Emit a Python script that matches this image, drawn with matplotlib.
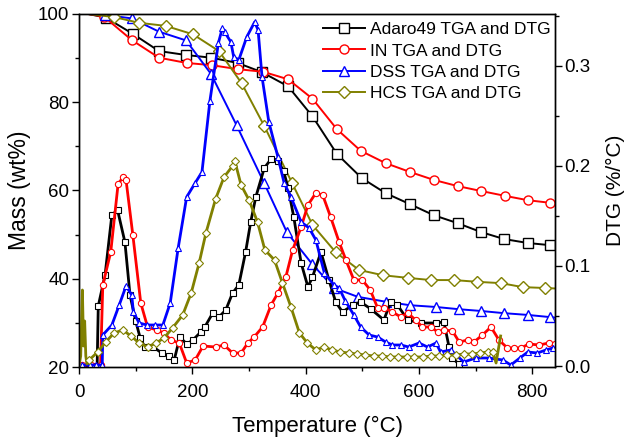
import matplotlib
matplotlib.use('Agg')
import matplotlib.pyplot as plt
from matplotlib.ticker import MultipleLocator

plt.rcParams['font.family'] = ['Liberation Sans', 'DejaVu Sans']

# TGA curves (mass, wt%)
t_ad_tga = [16, 47, 95, 141, 189, 233, 280, 323, 369, 412, 455, 499, 541, 584, 626, 668, 709, 750, 792, 832, 840]
m_ad_tga = [100, 99.2, 95.5, 91.6, 90.7, 90.1, 88.9, 86.8, 83.6, 76.8, 68.3, 62.8, 59.4, 56.9, 54.4, 52.6, 50.6, 49.0, 48.1, 47.6, 47.5]

t_in_tga = [16, 44, 93, 141, 190, 234, 280, 325, 369, 412, 455, 497, 541, 584, 626, 668, 709, 751, 792, 832, 840]
m_in_tga = [100, 99.4, 94.1, 90.1, 88.9, 88.4, 87.5, 86.9, 85.2, 80.8, 73.9, 69.0, 66.2, 64.2, 62.4, 61.0, 59.9, 58.8, 57.8, 57.2, 57.1]

t_dss_tga = [16, 45, 93, 141, 189, 233, 278, 327, 367, 411, 450, 492, 541, 584, 630, 670, 709, 750, 792, 832, 840]
m_dss_tga = [100, 99.8, 99.0, 96.0, 94.0, 86.4, 74.8, 61.6, 50.5, 43.4, 37.9, 35.9, 34.8, 34.0, 33.6, 33.1, 32.7, 32.2, 31.8, 31.3, 31.2]

t_hcs_tga = [16, 62, 106, 153, 201, 247, 287, 327, 376, 412, 453, 494, 536, 580, 621, 662, 703, 745, 783, 823, 840]
m_hcs_tga = [100, 99.3, 98.0, 97.3, 95.4, 91.6, 84.3, 74.6, 61.7, 52.2, 46.0, 42.0, 40.8, 40.2, 39.7, 39.7, 39.3, 39.0, 38.1, 37.9, 37.8]

# DTG curves (%/°C)
t_ad_dtg = [0, 32, 34, 46, 58, 68, 81, 90, 100, 108, 116, 131, 146, 159, 168, 178, 190, 201, 215, 222,
            236, 247, 259, 271, 282, 294, 303, 312, 327, 339, 351, 361, 369, 379, 392, 404, 412, 427,
            441, 453, 465, 483, 497, 515, 538, 550, 562, 580, 603, 630, 644, 653, 659, 670]
d_ad_dtg = [0, 0, 0.06, 0.091, 0.151, 0.156, 0.124, 0.071, 0.045, 0.028, 0.019, 0.019, 0.013, 0.010, 0.006, 0.029, 0.022, 0.026, 0.034, 0.039,
            0.053, 0.049, 0.056, 0.073, 0.081, 0.114, 0.144, 0.169, 0.198, 0.207, 0.205, 0.195, 0.178, 0.149, 0.103, 0.079, 0.089, 0.114,
            0.086, 0.064, 0.054, 0.061, 0.064, 0.057, 0.046, 0.064, 0.061, 0.046, 0.043, 0.043, 0.044, 0.019, 0.008, 0.002]

t_in_dtg = [5, 21, 38, 42, 56, 69, 78, 83, 95, 109, 121, 137, 150, 162, 177, 190, 205, 219, 241, 256, 271, 286, 298,
            309, 324, 339, 351, 365, 377, 392, 404, 418, 430, 444, 459, 471, 485, 500, 514, 527, 539, 553, 568, 580,
            594, 606, 621, 633, 644, 659, 671, 686, 697, 712, 727, 741, 756, 768, 780, 794, 812, 829, 840]
d_in_dtg = [0.001, 0.001, 0.001, 0.081, 0.114, 0.182, 0.189, 0.186, 0.131, 0.063, 0.039, 0.036, 0.033, 0.026, 0.023, 0.003, 0.006, 0.020, 0.019, 0.021, 0.013, 0.013, 0.023,
            0.029, 0.039, 0.061, 0.073, 0.089, 0.116, 0.139, 0.161, 0.173, 0.171, 0.149, 0.124, 0.106, 0.086, 0.086, 0.076, 0.058, 0.058, 0.054, 0.049, 0.053,
            0.046, 0.039, 0.039, 0.034, 0.036, 0.035, 0.024, 0.026, 0.024, 0.031, 0.039, 0.026, 0.018, 0.018, 0.018, 0.022, 0.021, 0.023, 0.022]

t_dss_dtg = [5, 19, 30, 41, 42, 58, 71, 83, 93, 96, 106, 120, 134, 148, 161, 175, 190, 205, 217, 231, 246, 253, 257,
             268, 273, 282, 296, 310, 316, 323, 335, 351, 362, 374, 392, 406, 418, 433, 450, 459, 470, 485, 497, 512,
             527, 541, 553, 568, 582, 600, 615, 630, 638, 656, 679, 700, 723, 748, 762, 778, 792, 809, 824, 836]
d_dss_dtg = [0.001, 0.001, 0.001, 0.001, 0.031, 0.041, 0.061, 0.080, 0.071, 0.054, 0.043, 0.041, 0.041, 0.041, 0.063, 0.118, 0.169, 0.183, 0.194, 0.265, 0.323, 0.338, 0.334,
             0.324, 0.309, 0.306, 0.329, 0.344, 0.336, 0.289, 0.244, 0.209, 0.183, 0.169, 0.144, 0.138, 0.126, 0.093, 0.081, 0.078, 0.065, 0.051, 0.039, 0.031,
             0.029, 0.024, 0.021, 0.021, 0.019, 0.023, 0.019, 0.023, 0.014, 0.016, 0.004, 0.008, 0.008, 0.006, 0.001, 0.008, 0.014, 0.013, 0.016, 0.018]

t_hcs_dtg = [0, 3, 6, 8, 10, 12, 14, 18, 33, 47, 62, 77, 92, 106, 121, 136, 150, 165, 183, 198, 212, 224, 241, 256,
             271, 275, 286, 300, 315, 328, 345, 359, 374, 389, 403, 418, 432, 447, 461, 476, 490, 505, 520, 534, 549,
             563, 578, 592, 607, 621, 636, 650, 665, 679, 694, 708, 722, 730, 736, 744]
d_hcs_dtg = [0.0, 0.01, 0.076, 0.02, 0.045, 0.01, 0.002, 0.006, 0.014, 0.024, 0.033, 0.036, 0.030, 0.023, 0.019, 0.023, 0.028, 0.038, 0.051, 0.073, 0.103, 0.133, 0.167, 0.189,
             0.200, 0.205, 0.181, 0.166, 0.144, 0.116, 0.106, 0.083, 0.059, 0.033, 0.023, 0.016, 0.019, 0.016, 0.014, 0.013, 0.012, 0.011, 0.010, 0.010, 0.009,
             0.009, 0.009, 0.009, 0.009, 0.010, 0.010, 0.011, 0.011, 0.012, 0.012, 0.013, 0.014, 0.014, 0.003, 0.030]

labels = ['Adaro49 TGA and DTG', 'IN TGA and DTG', 'DSS TGA and DTG', 'HCS TGA and DTG']
colors = ['black', 'red', 'blue', '#808000']
markers = ['s', 'o', '^', 'D']

fig = plt.figure(figsize=(6.26, 4.41), dpi=100)
ax = fig.add_axes([0.1262, 0.1678, 0.7604, 0.8005])
ax2 = ax.twinx()

tga = [(t_ad_tga, m_ad_tga), (t_in_tga, m_in_tga), (t_dss_tga, m_dss_tga), (t_hcs_tga, m_hcs_tga)]
dtg = [(t_ad_dtg, d_ad_dtg), (t_in_dtg, d_in_dtg), (t_dss_dtg, d_dss_dtg), (t_hcs_dtg, d_hcs_dtg)]

handles = []
for (t, m), lab, c, mk in zip(tga, labels, colors, markers):
    ms = 6 if mk == 'D' else 6.5
    h, = ax.plot(t, m, color=c, lw=1.4, marker=mk, ms=ms, mfc='white', mec=c, mew=1.0,
                 markevery=list(range(1, len(t) - 1)), label=lab)
    handles.append(h)

for (t, d), c, mk in zip(dtg, colors, markers):
    n = len(t)
    if c == '#808000':
        me = list(range(7, n - 2))
    else:
        me = list(range(0, n))
    ax2.plot(t, d, color=c, lw=2.0, marker=mk, ms=4.5, mfc='white', mec=c, mew=0.8, markevery=me)

ax.set_xlim(0, 840)
ax.set_ylim(20, 100)
ax2.set_ylim(-0.001, 0.352)

ax.xaxis.set_major_locator(MultipleLocator(200))
ax.xaxis.set_minor_locator(MultipleLocator(100))
ax.yaxis.set_major_locator(MultipleLocator(20))
ax.yaxis.set_minor_locator(MultipleLocator(10))
ax2.yaxis.set_major_locator(MultipleLocator(0.1))
ax2.yaxis.set_minor_locator(MultipleLocator(0.05))
ax2.yaxis.set_major_formatter(plt.FuncFormatter(lambda v, p: '%.1f' % v))

for a in (ax, ax2):
    a.tick_params(which='major', direction='out', length=5, width=1, labelsize=13.5, pad=2)
    a.tick_params(which='minor', direction='out', length=3, width=1)
    for s in a.spines.values():
        s.set_linewidth(1.0)
ax.tick_params(axis='x', which='major', pad=7)
ax.tick_params(top=False, right=False)
ax.tick_params(which='minor', top=False, right=False)

ax.set_xlabel('Temperature (\u00b0C)', fontsize=16, labelpad=11)
ax.set_ylabel('Mass (wt%)', fontsize=16.5, labelpad=5)
ax2.set_ylabel('DTG (%/\u00b0C)', fontsize=15, labelpad=11)

leg = ax2.legend(handles=handles, loc='upper right', bbox_to_anchor=(1.008, 1.0), frameon=False,
                 fontsize=12.5, handlelength=2.4, handletextpad=0.3, labelspacing=0.35,
                 borderaxespad=0.27, borderpad=0.2)

fig.savefig('out.png', dpi=100)
